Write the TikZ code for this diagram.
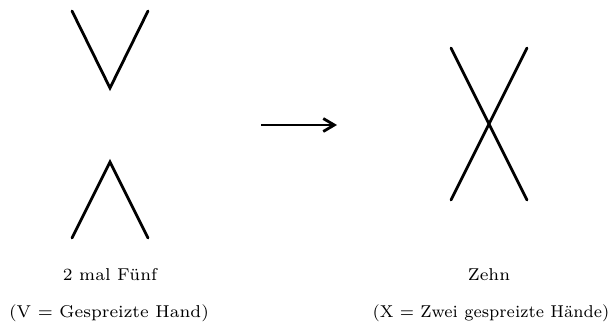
\documentclass[tikz,border=0pt]{standalone}
\usetikzlibrary{arrows.meta}
\begin{document}
\begin{tikzpicture}[x=1pt,y=-1pt,
  stroke/.style={line width=2.8pt,line cap=round,line join=miter},
  lbl/.style={font=\fontsize{7}{8}\selectfont,inner sep=0pt,scale=2.45,transform shape}]
\useasboundingbox (0,0) rectangle (616,327);
% V
\coordinate (v1) at (72,11);
\coordinate (v2) at (110,88);
\coordinate (v3) at (148,11);
\draw[stroke] (v1) -- (v2) -- (v3);
% Lambda
\coordinate (l1) at (72,238);
\coordinate (l2) at (110,162);
\coordinate (l3) at (148,238);
\draw[stroke] (l1) -- (l2) -- (l3);
% arrow
\coordinate (a1) at (261,125);
\coordinate (a2) at (337,125);
\draw[stroke,line cap=butt,-{Straight Barb[length=11pt,width=13pt,line join=miter]}] (a1) -- (a2);
% X
\coordinate (x1) at (451,48);
\coordinate (x2) at (527,200);
\coordinate (x3) at (527,48);
\coordinate (x4) at (451,200);
\draw[stroke] (x1) -- (x2);
\draw[stroke] (x3) -- (x4);
% labels
\node[lbl] (t1) at (110,275) {2 mal Fünf};
\node[lbl] (t2) at (489,275) {Zehn};
\node[lbl] (t3) at (109,313) {(V = Gespreizte Hand)};
\node[lbl,xscale=0.95] (t4) at (491,313) {(X = Zwei gespreizte Hände)};
\end{tikzpicture}
\end{document}
